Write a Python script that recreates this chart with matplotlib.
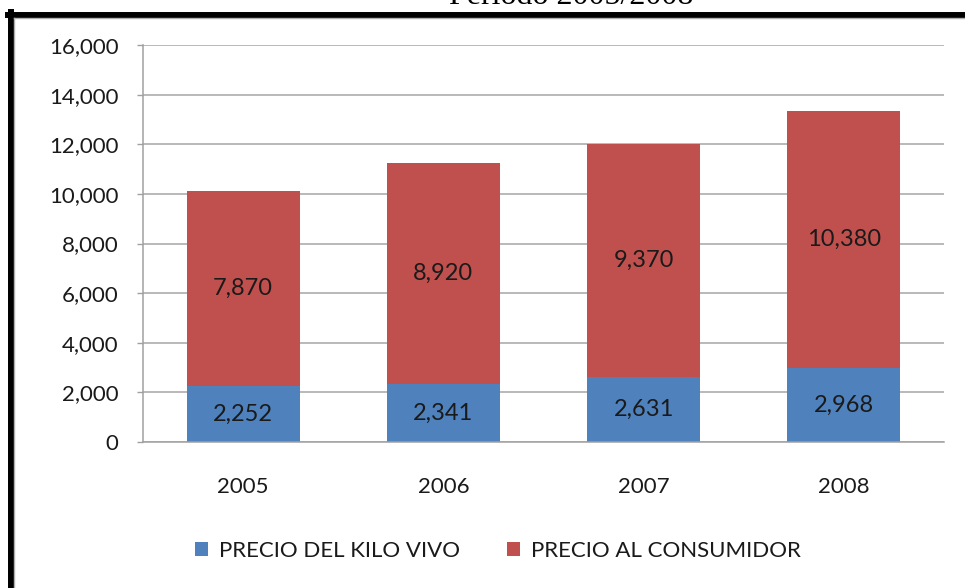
import matplotlib
matplotlib.use('Agg')
import numpy as np
import matplotlib.pyplot as plt
from matplotlib.lines import Line2D

years = ['2005', '2006', '2007', '2008']
kilo_vivo = [2252, 2341, 2631, 2968]
consumidor = [7870, 8920, 9370, 10380]
yticks = [0, 2000, 4000, 6000, 8000, 10000, 12000, 14000, 16000]

plt.rcParams['font.family'] = ['Lato', 'DejaVu Sans']

fig = plt.figure(figsize=(9.65, 5.88), dpi=100)
W, H = 965, 588
ax = fig.add_axes([143 / W, 1 - 442 / H, (944 - 143) / W, (442 - 45) / H])

x = np.arange(len(years))
bw = 0.565
b1 = ax.bar(x, kilo_vivo, bw, color='#4F81BD', label='PRECIO DEL KILO VIVO', zorder=3)
b2 = ax.bar(x, consumidor, bw, bottom=kilo_vivo, color='#C0504D', label='PRECIO AL CONSUMIDOR', zorder=3)
ax.bar_label(b1, labels=['{:,}'.format(v) for v in kilo_vivo], label_type='center', fontsize=17, color='#1a1a1a')
ax.bar_label(b2, labels=['{:,}'.format(v) for v in consumidor], label_type='center', fontsize=17, color='#1a1a1a')

ax.set_xlim(-0.5, 3.5)
ax.set_ylim(0, 16000)
ax.set_yticks(yticks)
ax.set_yticklabels(['{:,}'.format(v) for v in yticks])
ax.set_xticks(x)
ax.set_xticklabels(years)
ax.tick_params(axis='y', length=4.5, width=1, color='#a0a0a0', pad=13, labelsize=16, labelcolor='#1a1a1a')
ax.tick_params(axis='x', length=0, pad=25, labelsize=16, labelcolor='#1a1a1a')
ax.grid(axis='y', color='#a6a6a6', linewidth=1.1, zorder=0)
for s in ['top', 'right']:
    ax.spines[s].set_visible(False)
for s in ['left', 'bottom']:
    ax.spines[s].set_color('#a0a0a0')
    ax.spines[s].set_linewidth(1.1)
    ax.spines[s].set_zorder(4)

fig.legend(loc='center', bbox_to_anchor=(0.516, 1 - 551 / H), ncol=2, frameon=False,
           fontsize=16, handlelength=0.6, handleheight=0.6, handletextpad=0.5,
           columnspacing=2.1, labelcolor='#1a1a1a')

# partial title cut off at the top
fig.text(0.592, 1 - 4 / H, 'Periodo 2005/2008', family='Liberation Serif', fontsize=23,
         ha='center', va='baseline')

# black frame around the chart
fig.add_artist(Line2D([8 / W, 1], [1 - 14.5 / H, 1 - 14.5 / H], color='black', linewidth=4.3))
fig.add_artist(Line2D([10.5 / W, 10.5 / W], [0, 1 - 12 / H], color='black', linewidth=4.3))
fig.add_artist(Line2D([14 / W, 1], [1 - 18 / H, 1 - 18 / H], color='#b0b0b0', linewidth=1))
fig.add_artist(Line2D([14 / W, 14 / W], [0, 1 - 18 / H], color='#b0b0b0', linewidth=1))

fig.savefig('out.png', dpi=100)
